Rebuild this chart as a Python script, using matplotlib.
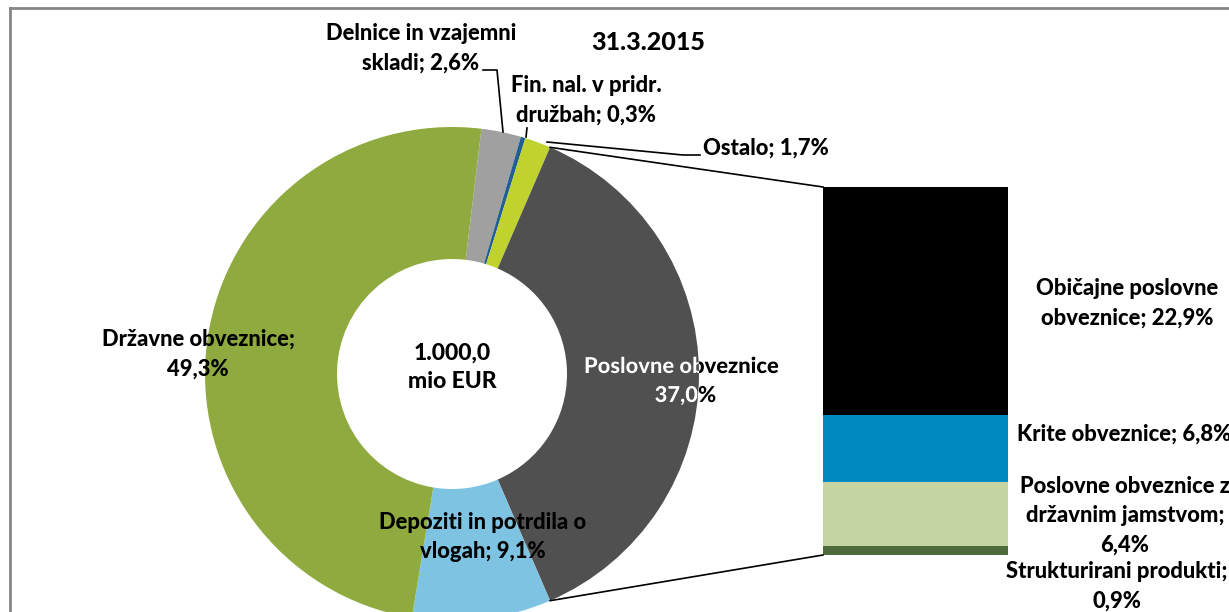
import numpy as np
import matplotlib.pyplot as plt
from matplotlib.font_manager import FontProperties
from matplotlib.textpath import TextPath
from matplotlib.patches import PathPatch
from matplotlib.transforms import Affine2D

plt.rcParams['font.family'] = ['Lato', 'DejaVu Sans']

# naložbe po vrstah, v % (31.3.2015)
pie_names = ['Delnice in vzajemni\nskladi; {}', 'Fin. nal. v pridr.\ndružbah; {}', 'Ostalo; {}',
             'Poslovne obveznice\n{}', 'Depoziti in potrdila o\nvlogah; {}', 'Državne obveznice;\n{}']
pie_values = [2.6, 0.3, 1.7, 37.0, 9.1, 49.3]
pie_colors = ['#a0a0a0', '#1f5f96', '#c0d22e', '#505050', '#7ec4e2', '#8faa3e']

# razčlenitev poslovnih obveznic (od spodaj navzgor)
bar_names = ['Strukturirani produkti;\n{}', 'Poslovne obveznice z\ndržavnim jamstvom;\n{}',
             'Krite obveznice; {}', 'Običajne poslovne\nobveznice; {}']
bar_values = [0.9, 6.4, 6.8, 22.9]
bar_colors = ['#4f6a3b', '#c4d5a3', '#0089c1', '#000000']

total_text = '1.000,0\nmio EUR'
date_text = '31.3.2015'

W, H = 1229, 612
def Y(y):
    return H - y

def pct(v):
    return f'{v:.1f}'.replace('.', ',') + '%'

fig = plt.figure(figsize=(W / 100, H / 100), dpi=100)
ax = fig.add_axes([0, 0, 1, 1])

# kolobar
cx, cy, R, r_in = 452, Y(374), 247, 115
big = 3  # index of the slice split into the bar
start = (sum(pie_values[:big]) + pie_values[big] / 2) * 3.6
wedges, _ = ax.pie(pie_values, colors=pie_colors, center=(cx, cy), radius=R,
                   startangle=start, counterclock=False,
                   wedgeprops=dict(width=R - r_in, linewidth=0), frame=True)
ax.set_xlim(0, W)
ax.set_ylim(0, H)
ax.set_aspect('equal')
ax.axis('off')

# stolpec z razčlenitvijo
bx, bw, btop, bbot = 823, 185, Y(187), Y(555)
scale = (btop - bbot) / sum(bar_values)
bottom = bbot
for v, c in zip(bar_values, bar_colors):
    ax.bar(bx + bw / 2, v * scale, width=bw, bottom=bottom, color=c, linewidth=0)
    bottom += v * scale

# povezovalni črti
a1 = np.radians(start - sum(pie_values[:big]) * 3.6)
a2 = np.radians(start - sum(pie_values[:big + 1]) * 3.6)
for a, yb in [(a1, btop), (a2, bbot)]:
    ax.plot([cx + R * np.cos(a), bx], [cy + R * np.sin(a), yb], color='black', lw=1.2)

fs = 15.8
lab = dict(fontsize=fs, fontweight=900, ha='center', va='center', linespacing=1.5)
fp = FontProperties(family=['Lato', 'DejaVu Sans'], weight=900)


def path_text(s, x, y_base, color, clip=None):
    # text drawn as a patch so that it can be clipped to a wedge
    tp = TextPath((0, 0), s, size=fs * 100 / 72, prop=fp)
    w = tp.get_extents().x1
    p = Affine2D().translate(x - w / 2, Y(y_base)).transform_path(tp)
    patch = PathPatch(p, facecolor=color, edgecolor='none')
    ax.add_patch(patch)
    if clip is not None:
        patch.set_clip_path(clip)


# oznake kolobarja
pie_pos = [(421, 48), (586, 100), (766, 148), (681, 380), (483, 537), (198, 354)]
for i, (name, v, (x, y)) in enumerate(zip(pie_names, pie_values, pie_pos)):
    s = name.format(pct(v))
    if i == 2:
        ax.text(703, Y(y), s, fontsize=fs, fontweight=900, ha='left', va='center')
    elif i == big:
        for k, line in enumerate(s.split('\n')):
            yb = 373 + 29 * k
            path_text(line, x + (4 if k else 0), yb, 'black')
            path_text(line, x + (4 if k else 0), yb, 'white', clip=wedges[i])
    else:
        ax.text(x, Y(y), s, color='black', **lab)

# vodilne črte
ax.plot([483, 497, 503], [Y(70), Y(70), Y(132)], color='black', lw=1.2)
ax.plot([527, 526], [Y(128), Y(137)], color='black', lw=1.2)
ax.plot([547, 683, 700], [Y(142), Y(155), Y(155)], color='black', lw=1.2)

# oznake stolpca
bar_pos = [(1117, 586), (1125, 516), (1124, 434), (1127, 303)]
for name, v, (x, y) in zip(bar_names, bar_values, bar_pos):
    ax.text(x, Y(y), name.format(pct(v)), **lab)

ax.text(cx, Y(367), total_text, fontsize=16.5, fontweight=900, ha='center', va='center',
        linespacing=1.45)
ax.text(648, Y(42), date_text, fontsize=18, fontweight=900, ha='center', va='center')

# okvir
ax.plot([10, W], [Y(8), Y(8)], color='#868686', lw=2, clip_on=False)
ax.plot([10, 10], [Y(8), 0], color='#868686', lw=2, clip_on=False)

fig.savefig('out.png', dpi=100)
